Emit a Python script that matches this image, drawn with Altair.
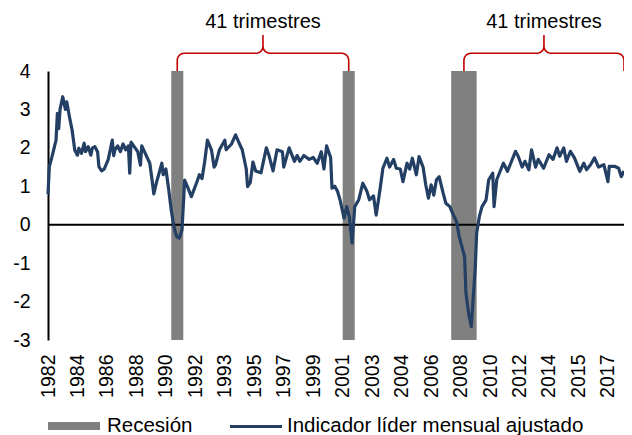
import math
import altair as alt
import pandas as pd

# ---- data (month offset from Nov-1982, value) ----
months = [0, 1, 3, 6, 7, 8, 9, 11, 13, 14, 16, 18, 20, 22, 23, 25, 27, 28, 30, 32, 33, 35, 37, 38, 40, 42, 45, 48, 49, 50,
          52, 54, 56, 58, 60, 61, 62, 65, 67, 69, 70, 72, 76, 78, 79, 81, 85, 86, 88, 90, 92, 94, 96, 98, 100, 101, 102, 104,
          107, 111, 113, 115, 117, 119, 122, 124, 125, 128, 132, 133, 137, 140, 143, 145, 148, 149, 151, 153, 155, 159, 163,
          165, 168, 171, 175, 176, 180, 184, 186, 188, 191, 195, 198, 201, 204, 206, 208, 211, 212, 214, 216, 218, 221, 223,
          225, 227, 229, 232, 235, 238, 240, 243, 245, 248, 250, 253, 255, 258, 260, 263, 265, 268, 270, 272, 275, 277, 280,
          282, 284, 286, 288, 290, 292, 295, 297, 300, 302, 305, 307, 310, 311, 312, 314, 316, 317, 319, 320, 322, 324, 327,
          329, 332, 333, 335, 338, 340, 343, 345, 349, 351, 354, 356, 359, 361, 364, 366, 370, 374, 377, 380, 382, 385, 387,
          390, 393, 397, 400, 402, 405, 408, 411, 415, 418, 419, 423, 426, 428, 430]
values = [0.8, 1.51, 1.77, 2.2, 2.9, 2.5, 3.0, 3.33, 3.0, 3.2, 2.81, 2.46, 1.94, 1.81, 1.99, 1.86, 2.12, 1.90, 2.03, 1.81,
          1.99, 2.03, 1.90, 1.51, 1.40, 1.45, 1.7, 2.2, 1.8, 1.95, 2.05, 1.9, 2.1, 1.95, 2.05, 1.34, 2.15, 2.0, 1.9, 1.55,
          2.05, 1.9, 1.6, 1.08, 0.8, 1.1, 1.6, 1.3, 1.45, 0.95, 0.38, -0.05, -0.31, -0.35, -0.14, 0.48, 1.16, 1.0, 0.73, 1.1,
          1.3, 1.2, 1.65, 2.2, 1.95, 1.5, 1.55, 1.95, 2.2, 1.95, 2.1, 2.34, 2.1, 1.95, 1.45, 0.99, 1.1, 1.63, 1.4, 1.35, 2.0,
          1.8, 1.4, 1.95, 1.9, 1.5, 2.0, 1.65, 1.8, 1.65, 1.8, 1.7, 1.75, 1.6, 1.9, 1.45, 2.05, 1.75, 0.95, 1.0, 0.88, 0.65,
          0.17, 0.47, 0.2, -0.48, 0.47, 0.65, 1.08, 0.88, 0.65, 0.75, 0.25, 0.95, 1.47, 1.73, 1.5, 1.7, 1.47, 1.45, 1.12, 1.6,
          1.45, 1.73, 1.3, 1.77, 1.5, 1.04, 0.69, 1.04, 0.77, 1.17, 1.25, 0.82, 0.56, 0.47, 0.3, 0.08, -0.31, -0.7, -0.83,
          -1.78, -2.3, -2.65, -2.13, -1.09, -0.22, 0.21, 0.47, 0.64, 1.17, 1.34, 0.47, 1.17, 1.43, 1.6, 1.39, 1.56, 1.91,
          1.78, 1.5, 1.65, 1.43, 1.95, 1.5, 1.7, 1.47, 1.82, 1.7, 2.0, 1.78, 2.0, 1.65, 1.91, 1.74, 1.39, 1.6, 1.43, 1.56,
          1.74, 1.5, 1.56, 1.12, 1.52, 1.52, 1.47, 1.25, 1.4]

rec_start = ["1990-07", "2001-03", "2007-12"]
rec_end = ["1991-03", "2001-11", "2009-06"]

tick_months = list(range(0, 431, 22))
y_ticks = [-3, -2, -1, 0, 1, 2, 3, 4]
bracket_label = "41 trimestres"
legend_labels = ["Recesión", "Indicador líder mensual ajustado"]

LINE = "#243F64"
GRAY = "#808080"
RED = "#C00000"
FONT = "Liberation Sans"

W, H = 576, 269
XMAX = 430
PXM = W / XMAX          # px per month
PXV = H / 7.0           # px per unit


def midx(s):
    y, m = map(int, s.split("-"))
    return (y - 1982) * 12 + (m - 11)


series = pd.DataFrame({"m": months, "v": values})
rec = pd.DataFrame({
    "s": [midx(s) for s in rec_start],
    "e": [midx(e) + 1 for e in rec_end],
    "lo": [-3] * 3,
    "hi": [4] * 3,
})
centers = [(a + b) / 2 for a, b in zip(rec["s"], rec["e"])]
spans = [(centers[0], centers[1]), (centers[2], XMAX)]


def brace(a, b, gid):
    h, tip, r = -17.7, -36.0, 7.0
    mid = (a + b) / 2
    pts = [(0.0, 0.0, a)]
    pts.append((0.0, h + r, a))

    def arc(cx_m, cx, cy, t0, t1, n=6):
        out = []
        for i in range(1, n + 1):
            t = t0 + (t1 - t0) * i / n
            out.append((cx + r * math.cos(t), cy + r * math.sin(t), cx_m))
        return out

    pts += arc(a, r, h + r, math.pi, 1.5 * math.pi)
    pts.append((-r, h, mid))
    pts += arc(mid, -r, h - r, 0.5 * math.pi, 0.0)
    pts.append((0.0, tip, mid))
    pts.append((0.0, h - r, mid))
    pts += arc(mid, r, h - r, math.pi, 0.5 * math.pi)
    pts.append((-r, h, b))
    pts += arc(b, -r, h + r, 1.5 * math.pi, 2 * math.pi)
    pts.append((0.0, 0.0, b))
    rows = []
    for i, (dx, dy, base) in enumerate(pts):
        rows.append({"g": gid, "o": i, "x": base + dx / PXM, "y": 4 - dy / PXV})
    return rows


br_rows = []
for i, (a, b) in enumerate(spans):
    br_rows += brace(a, b, i)
brace_df = pd.DataFrame(br_rows)
text_df = pd.DataFrame({"x": [(a + b) / 2 for a, b in spans],
                        "y": [4 + 43 / PXV] * 2,
                        "t": [bracket_label] * 2})

xscale = alt.Scale(domain=[0, XMAX], nice=False, zero=False)
yscale = alt.Scale(domain=[-3, 4], nice=False, zero=False)

xaxis = alt.Axis(values=tick_months, labelExpr="1982 + floor((10 + datum.value) / 12)",
                 labelAngle=270, ticks=False, tickSize=0, domain=False, grid=False,
                 labelOverlap=False, labelFlush=False, labelSeparation=0,
                 labelFontSize=19.5, labelPadding=14, labelColor="black", labelFont=FONT,
                 title=None)
yaxis = alt.Axis(values=y_ticks, labelExpr="toString(datum.value)",
                 ticks=False, tickSize=0, grid=False, labelOverlap=False, labelFlush=False,
                 labelSeparation=0,
                 domainColor="black", domainWidth=2, labelFontSize=19.5, labelPadding=18,
                 labelColor="black", labelFont=FONT, title=None)

bars = alt.Chart(rec).mark_rect(color=GRAY).encode(
    x=alt.X("s:Q", scale=xscale, axis=xaxis),
    x2="e:Q",
    y=alt.Y("lo:Q", scale=yscale, axis=yaxis),
    y2="hi:Q",
)

zero = alt.Chart(pd.DataFrame({"z": [0]})).mark_rule(color="black", strokeWidth=2).encode(
    y=alt.Y("z:Q", scale=yscale, axis=yaxis)
)

line = alt.Chart(series).mark_line(color=LINE, strokeWidth=3.2, strokeJoin="round").encode(
    x=alt.X("m:Q", scale=xscale, axis=xaxis),
    y=alt.Y("v:Q", scale=yscale, axis=yaxis),
)

braces = alt.Chart(brace_df).mark_line(color=RED, strokeWidth=1.6, clip=False).encode(
    x=alt.X("x:Q", scale=xscale, axis=xaxis),
    y=alt.Y("y:Q", scale=yscale, axis=yaxis),
    detail="g:N",
    order="o:Q",
)

btext = alt.Chart(text_df).mark_text(fontSize=20, font=FONT, color="black", baseline="alphabetic").encode(
    x=alt.X("x:Q", scale=xscale, axis=xaxis),
    y=alt.Y("y:Q", scale=yscale, axis=yaxis),
    text="t:N",
)

# legend
leg_df = pd.DataFrame({"k": [0]})
leg_rect = alt.Chart(leg_df).mark_rect(color=GRAY).encode(
    x=alt.value(0), x2=alt.value(52), y=alt.value(351), y2=alt.value(359))
leg_line = alt.Chart(leg_df).mark_rule(color=LINE, strokeWidth=3).encode(
    x=alt.value(182), x2=alt.value(234), y=alt.value(355.5))
leg_t1 = alt.Chart(leg_df).mark_text(fontSize=20.5, font=FONT, color="black", align="left",
                                     baseline="alphabetic").encode(
    x=alt.value(59), y=alt.value(361), text=alt.value(legend_labels[0]))
leg_t2 = alt.Chart(leg_df).mark_text(fontSize=20.5, font=FONT, color="black", align="left",
                                     baseline="alphabetic").encode(
    x=alt.value(239), y=alt.value(361), text=alt.value(legend_labels[1]))

chart = alt.layer(bars, zero, line, braces, btext, leg_rect, leg_line, leg_t1, leg_t2).properties(
    width=W, height=H,
    padding={"left": 40, "top": 63, "right": 0, "bottom": 95},
    autosize=alt.AutoSizeParams(type="none"),
    background="white",
).configure_view(stroke=None).configure_axis(labelOverlap=False, labelSeparation=0)

chart.save("out.html", embed_options={"renderer": "svg", "actions": False})
